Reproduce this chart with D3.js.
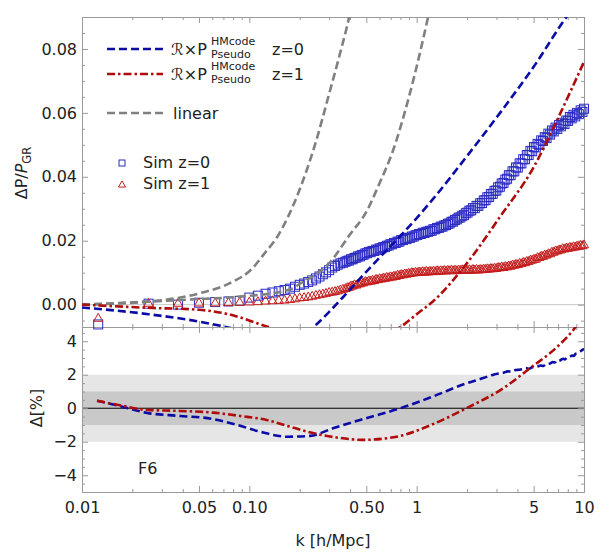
<!DOCTYPE html>
<html>
<head>
<meta charset="utf-8">
<script src="https://cdn.jsdelivr.net/npm/d3@7"></script>
<style>
  body { margin: 0; background: #fff; }
  svg text { font-family: "DejaVu Sans", sans-serif; fill: #222; }
</style>
</head>
<body>
<div id="chart"></div>
<script>
// ---- data ----
// simulation wavenumbers (k in h/Mpc)
const kSim = [0.0125, 0.025, 0.0375, 0.05, 0.0625, 0.075, 0.0875, 0.1, 0.1125, 0.125,
  0.1375, 0.15, 0.1625, 0.175, 0.1875, 0.2, 0.2125, 0.225, 0.2375, 0.25,
  0.2625, 0.275, 0.2875, 0.3, 0.3125, 0.325, 0.3375, 0.35, 0.3625, 0.375,
  0.385, 0.395, 0.405, 0.415, 0.425, 0.436, 0.447, 0.458, 0.469, 0.481,
  0.493, 0.505, 0.518, 0.531, 0.544, 0.558, 0.572, 0.586, 0.601, 0.616,
  0.631, 0.647, 0.663, 0.680, 0.697, 0.714, 0.732, 0.750, 0.769, 0.788,
  0.808, 0.828, 0.849, 0.870, 0.892, 0.914, 0.937, 0.960, 0.984, 1.009,
  1.034, 1.060, 1.087, 1.114, 1.142, 1.170, 1.199, 1.229, 1.260, 1.292,
  1.324, 1.357, 1.391, 1.426, 1.462, 1.498, 1.536, 1.574, 1.614, 1.654,
  1.695, 1.738, 1.781, 1.826, 1.871, 1.918, 1.966, 2.015, 2.066, 2.117,
  2.170, 2.225, 2.280, 2.337, 2.396, 2.456, 2.517, 2.580, 2.644, 2.711,
  2.778, 2.848, 2.919, 2.992, 3.067, 3.143, 3.222, 3.303, 3.385, 3.470,
  3.557, 3.645, 3.737, 3.830, 3.926, 4.024, 4.125, 4.228, 4.333, 4.442,
  4.553, 4.667, 4.783, 4.903, 5.025, 5.151, 5.280, 5.412, 5.547, 5.686,
  5.828, 5.974, 6.123, 6.276, 6.433, 6.594, 6.759, 6.928, 7.101, 7.279,
  7.461, 7.647, 7.838, 8.034, 8.235, 8.441, 8.652, 8.868, 9.090, 9.317,
  9.550, 9.789, 10.0];
// Sim z=0 (squares), Delta P / P_GR in units of 1e-4
const simZ0 = [-62, 3, 0, 6, 8, 10, 12, 22, 28, 34,
  38, 42, 46, 50, 56, 62, 66, 71, 76, 82,
  88, 95, 101, 108, 116, 121, 125, 129, 131, 134,
  137, 138, 142, 142, 146, 147, 151, 151, 155, 156,
  160, 161, 165, 164, 168, 168, 172, 172, 176, 176,
  180, 180, 184, 185, 189, 189, 193, 193, 197, 197,
  202, 202, 206, 205, 209, 209, 213, 213, 217, 218,
  221, 221, 225, 224, 228, 228, 231, 231, 236, 236,
  240, 240, 244, 244, 248, 249, 253, 254, 259, 260,
  265, 267, 272, 273, 278, 280, 286, 288, 294, 295,
  302, 302, 309, 309, 317, 318, 326, 327, 336, 337,
  346, 347, 356, 357, 367, 369, 379, 381, 391, 394,
  405, 405, 417, 417, 429, 429, 442, 442, 455, 455,
  468, 468, 481, 480, 493, 492, 503, 500, 514, 512,
  524, 521, 535, 532, 545, 542, 554, 550, 562, 558,
  569, 565, 576, 575, 587, 583, 594, 589, 600, 596,
  608, 603, 613];
// Sim z=1 (triangles), units of 1e-4
const simZ1 = [-47, 0, 0, 1, 1, 2, 3, 4, 5, 7,
  8, 9, 10, 12, 14, 17, 18, 20, 22, 25,
  27, 29, 31, 34, 35, 37, 39, 42, 44, 46,
  49, 50, 54, 54, 58, 57, 61, 61, 64, 64,
  68, 67, 70, 69, 72, 71, 75, 74, 77, 76,
  79, 78, 81, 80, 83, 82, 85, 84, 88, 87,
  90, 89, 92, 91, 94, 93, 96, 95, 97, 96,
  98, 97, 99, 97, 100, 98, 100, 99, 101, 99,
  102, 100, 102, 101, 103, 101, 103, 102, 104, 102,
  104, 102, 104, 103, 105, 103, 105, 103, 105, 103,
  106, 104, 106, 104, 106, 105, 107, 106, 108, 107,
  109, 108, 110, 109, 112, 111, 114, 112, 115, 114,
  117, 116, 120, 119, 122, 121, 125, 124, 128, 127,
  131, 131, 135, 135, 138, 138, 143, 143, 147, 147,
  151, 151, 155, 155, 160, 160, 164, 164, 167, 167,
  171, 170, 173, 172, 175, 174, 177, 176, 179, 178,
  181, 180, 183];
const simUnit = 1e-4;

// R x P_pseudo^HMcode, upper panel
const kHM0 = [0.01, 0.025, 0.05, 0.08, 0.12, 0.17, 0.22, 0.26, 0.358, 0.465, 0.62, 0.8, 1.25, 2.0, 3.15, 5.0, 8.0, 10];
const hm0 = [-0.0009, -0.003, -0.0053, -0.0075, -0.0098, -0.0105, -0.0088, -0.0055, 0.002, 0.0085, 0.0155, 0.0215, 0.033, 0.0465, 0.060, 0.0744, 0.0906, 0.097];
const kHM1 = [0.01, 0.025, 0.05, 0.075, 0.13, 0.25, 0.45, 0.65, 0.8, 1.0, 1.25, 2.0, 3.15, 5.0, 6.94, 10];
const hm1 = [0.0, -0.001, -0.0016, -0.003, -0.007, -0.0115, -0.012, -0.0095, -0.007, -0.003, 0.001, 0.013, 0.0275, 0.043, 0.058, 0.076];

// linear predictions
const kLinA = [0.01, 0.0255, 0.05, 0.077, 0.105, 0.121, 0.15, 0.193, 0.25, 0.3, 0.35, 0.395, 0.42];
const linA = [0.0, 0.001, 0.0035, 0.0068, 0.0115, 0.0155, 0.022, 0.034, 0.051, 0.066, 0.079, 0.090, 0.097];
const kLinB = [0.01, 0.044, 0.088, 0.175, 0.2, 0.25, 0.3, 0.4, 0.5, 0.6, 0.72, 0.91, 1.17, 1.25];
const linB = [0.0, 0.0016, 0.0025, 0.0047, 0.0065, 0.0095, 0.013, 0.022, 0.029, 0.038, 0.048, 0.066, 0.090, 0.097];

// Delta [%], lower panel
const kRat0 = [0.0123, 0.0176, 0.0245, 0.0385, 0.0606, 0.0846, 0.121, 0.168, 0.2307, 0.316, 0.505, 0.8, 1.25, 2.0,
  2.5, 2.7, 2.9, 3.1, 3.3, 3.5, 3.7, 3.9, 4.1, 4.3, 4.5, 4.7, 4.9, 5.1, 5.3, 5.5, 5.7, 5.9, 6.1, 6.3,
  6.5, 6.7, 6.9, 7.1, 7.3, 7.5, 7.7, 7.9, 8.1, 8.3, 8.5, 8.7, 8.9, 9.1, 9.3, 9.5, 9.7, 9.9, 10];
const rat0 = [0.45, 0.08, -0.28, -0.46, -0.64, -1.0, -1.45, -1.7, -1.65, -1.2, -0.58, 0.0, 0.7, 1.5,
  1.8, 1.92, 2.02, 2.08, 2.12, 2.2, 2.18, 2.28, 2.3, 2.34, 2.4, 2.36, 2.45, 2.48, 2.5, 2.55, 2.52, 2.62, 2.65, 2.68,
  2.76, 2.74, 2.85, 2.82, 2.9, 2.95, 2.92, 3.02, 3.05, 3.1, 3.15, 3.12, 3.25, 3.28, 3.35, 3.4, 3.45, 3.52, 3.55];
const kRat1 = [0.0123, 0.0176, 0.0245, 0.0385, 0.0606, 0.088, 0.127, 0.175, 0.24, 0.346, 0.477, 0.76, 1.25, 2.0, 3.3, 4.77, 6.94, 8.9, 10];
const rat1 = [0.45, 0.14, -0.1, -0.16, -0.26, -0.46, -0.7, -1.1, -1.48, -1.77, -1.89, -1.7, -0.95, 0.02, 1.2, 2.4, 3.68, 4.85, 5.6];

// ticks
const xMajor = [0.01, 0.05, 0.1, 0.5, 1, 5, 10];
const xMajorLabels = ["0.01", "0.05", "0.10", "0.50", "1", "5", "10"];
const xMinor = [0.02, 0.03, 0.04, 0.06, 0.07, 0.08, 0.09, 0.2, 0.3, 0.4, 0.6, 0.7, 0.8, 0.9, 2, 3, 4, 6, 7, 8, 9];
const yTopMajor = [0, 0.02, 0.04, 0.06, 0.08];
const yTopMinor = [-0.005, 0.005, 0.01, 0.015, 0.025, 0.03, 0.035, 0.045, 0.05, 0.055, 0.065, 0.07, 0.075, 0.085];
const yBotMajor = [-4, -2, 0, 2, 4];
const yBotMinor = [-4.5, -3.5, -3, -2.5, -1.5, -1, -0.5, 0.5, 1, 1.5, 2.5, 3, 3.5, 4.5];

// ---- layout ----
const W = 600, H = 557;
const L = 82, R = 584, T = 17, MID = 327, B = 492;

const svg = d3.select("#chart").append("svg")
    .attr("width", W)
    .attr("height", H);

const x = d3.scaleLog().domain([0.01, 10]).range([L, R]);
const yTop = d3.scaleLinear().domain([-0.007, 0.09]).range([MID, T]);
const yBot = d3.scaleLinear().domain([-5, 4.85]).range([B, MID]);

const defs = svg.append("defs");
defs.append("clipPath").attr("id", "clipTop")
    .append("rect").attr("x", L).attr("y", T).attr("width", R - L).attr("height", MID - T);
defs.append("clipPath").attr("id", "clipBot")
    .append("rect").attr("x", L).attr("y", MID).attr("width", R - L).attr("height", B - MID);

const frameColor = "#9a9a9a";
const blueLine = "#0b0ba6", redLine = "#b00c0c", grayLine = "#808080";
const blueMark = "#2b2bc4", redMark = "#c41e1e";

// ---- lower panel bands ----
svg.append("rect").attr("x", L).attr("width", R - L)
    .attr("y", yBot(2)).attr("height", yBot(-2) - yBot(2)).attr("fill", "#e6e6e6");
svg.append("rect").attr("x", L).attr("width", R - L)
    .attr("y", yBot(1)).attr("height", yBot(-1) - yBot(1)).attr("fill", "#c9c9c9");
svg.append("line").attr("x1", L).attr("x2", R).attr("y1", yBot(0)).attr("y2", yBot(0))
    .attr("stroke", "#000").attr("stroke-width", 1);

// zero line upper panel
svg.append("line").attr("x1", L).attr("x2", R).attr("y1", yTop(0)).attr("y2", yTop(0))
    .attr("stroke", "#c8c8c8").attr("stroke-width", 1);

// ---- axes / frame ----
function addAxis(axis, tx, ty, size, labelled) {
    const g = svg.append("g").attr("transform", `translate(${tx},${ty})`);
    axis.tickSizeInner(-size).tickSizeOuter(0);
    if (!labelled) axis.tickFormat("");
    g.call(axis);
    g.selectAll("path.domain").attr("stroke", frameColor);
    g.selectAll(".tick line").attr("stroke", frameColor);
    g.selectAll("text").style("font-size", "16px").style("font-family", "DejaVu Sans, sans-serif").attr("fill", "#222");
    return g;
}

// upper panel
addAxis(d3.axisLeft(yTop).tickValues(yTopMajor).tickFormat(d => d.toFixed(2)).tickPadding(5), L, 0, 6, true);
addAxis(d3.axisLeft(yTop).tickValues(yTopMinor), L, 0, 3, false);
addAxis(d3.axisRight(yTop).tickValues(yTopMajor), R, 0, 6, false);
addAxis(d3.axisRight(yTop).tickValues(yTopMinor), R, 0, 3, false);
addAxis(d3.axisTop(x).tickValues(xMajor), 0, T, 6, false);
addAxis(d3.axisTop(x).tickValues(xMinor), 0, T, 3, false);
addAxis(d3.axisBottom(x).tickValues(xMajor), 0, MID, 6, false);
addAxis(d3.axisBottom(x).tickValues(xMinor), 0, MID, 3, false);

// lower panel
addAxis(d3.axisLeft(yBot).tickValues(yBotMajor).tickFormat(d => d < 0 ? "\u2212" + Math.abs(d) : d).tickPadding(5), L, 0, 6, true);
addAxis(d3.axisLeft(yBot).tickValues(yBotMinor), L, 0, 3, false);
addAxis(d3.axisRight(yBot).tickValues(yBotMajor), R, 0, 6, false);
addAxis(d3.axisRight(yBot).tickValues(yBotMinor), R, 0, 3, false);
addAxis(d3.axisTop(x).tickValues(xMajor), 0, MID, 6, false);
addAxis(d3.axisTop(x).tickValues(xMinor), 0, MID, 3, false);
addAxis(d3.axisBottom(x).tickValues(xMajor).tickFormat((d, i) => xMajorLabels[i]).tickPadding(10), 0, B, 6, true);
addAxis(d3.axisBottom(x).tickValues(xMinor), 0, B, 3, false);

// ---- simulation markers ----
const sq = 9;
svg.append("g").selectAll("rect")
    .data(kSim.map((k, i) => [k, simZ0[i] * simUnit]))
    .enter().append("rect")
    .attr("x", d => x(d[0]) - sq / 2)
    .attr("y", d => yTop(d[1]) - sq / 2)
    .attr("width", sq).attr("height", sq)
    .attr("fill", "none").attr("stroke", blueMark).attr("stroke-width", 1);

const tri = d3.symbol().type(d3.symbolTriangle).size(36);
svg.append("g").selectAll("path")
    .data(kSim.map((k, i) => [k, simZ1[i] * simUnit]))
    .enter().append("path")
    .attr("d", tri)
    .attr("transform", d => `translate(${x(d[0])},${yTop(d[1]) - 1})`)
    .attr("fill", "none").attr("stroke", redMark).attr("stroke-width", 1);

// ---- curves ----
function curve(ks, vs, yS, clip, color, dash) {
    const line = d3.line()
        .x(d => x(d[0]))
        .y(d => yS(d[1]))
        .curve(d3.curveMonotoneX);
    svg.append("path")
        .datum(ks.map((k, i) => [k, vs[i]]))
        .attr("d", line)
        .attr("clip-path", `url(#${clip})`)
        .attr("fill", "none")
        .attr("stroke", color)
        .attr("stroke-width", 2.6)
        .attr("stroke-dasharray", dash);
}

curve(kLinA, linA, yTop, "clipTop", grayLine, "8,4");
curve(kLinB, linB, yTop, "clipTop", grayLine, "8,4");
curve(kHM0, hm0, yTop, "clipTop", blueLine, "8,4");
curve(kHM1, hm1, yTop, "clipTop", redLine, "8,3,2.5,3");
curve(kRat0, rat0, yBot, "clipBot", blueLine, "8,4");
curve(kRat1, rat1, yBot, "clipBot", redLine, "8,3,2.5,3");

// ---- legend ----
const leg = svg.append("g");
function legLine(y, color, dash) {
    leg.append("line").attr("x1", 107).attr("x2", 163).attr("y1", y).attr("y2", y)
        .attr("stroke", color).attr("stroke-width", 2.6).attr("stroke-dasharray", dash);
}
function hmLabel(y, z) {
    leg.append("text").attr("x", 171).attr("y", y + 6).style("font-size", "16px").text("\u211B\u00D7P");
    leg.append("text").attr("x", 211).attr("y", y - 4).style("font-size", "11px").text("HMcode");
    leg.append("text").attr("x", 211).attr("y", y + 9).style("font-size", "11px").text("Pseudo");
    leg.append("text").attr("x", 272).attr("y", y + 6).style("font-size", "16px").text("z=" + z);
}
legLine(49, blueLine, "8,4");
hmLabel(49, 0);
legLine(74, redLine, "8,3,2.5,3");
hmLabel(74, 1);
legLine(113, grayLine, "8,4");
leg.append("text").attr("x", 173).attr("y", 119).style("font-size", "16px").text("linear");

leg.append("rect").attr("x", 119).attr("y", 160).attr("width", 6).attr("height", 6)
    .attr("fill", "none").attr("stroke", blueMark);
leg.append("text").attr("x", 143).attr("y", 168).style("font-size", "16px").text("Sim z=0");
leg.append("path").attr("d", d3.symbol().type(d3.symbolTriangle).size(22))
    .attr("transform", "translate(122,185)")
    .attr("fill", "none").attr("stroke", redMark);
leg.append("text").attr("x", 143).attr("y", 189).style("font-size", "16px").text("Sim z=1");

// ---- axis titles ----
const yt = svg.append("text")
    .attr("transform", "translate(27,173) rotate(-90)")
    .attr("text-anchor", "middle")
    .style("font-size", "16px");
yt.append("tspan").text("\u0394P/");
yt.append("tspan").style("font-style", "italic").text("P");
yt.append("tspan").attr("dy", 4).style("font-size", "11.5px").text("GR");

svg.append("text")
    .attr("transform", "translate(42,408) rotate(-90)")
    .attr("text-anchor", "middle")
    .style("font-size", "16px")
    .text("\u0394[%]");

svg.append("text").attr("x", 138).attr("y", 474).style("font-size", "16px").text("F6");

svg.append("text").attr("x", 333).attr("y", 546).attr("text-anchor", "middle")
    .style("font-size", "16px").text("k [h/Mpc]");
</script>
</body>
</html>
